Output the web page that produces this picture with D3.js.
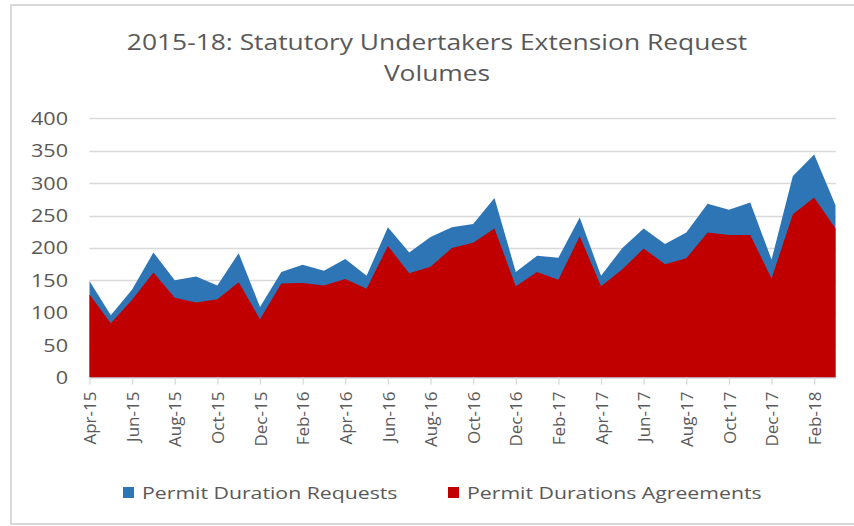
<!DOCTYPE html>
<html>
<head>
<meta charset="utf-8">
<script src="https://cdn.jsdelivr.net/npm/d3@7/dist/d3.min.js"></script>
<style>
  html, body { margin: 0; padding: 0; background: #fff; }
  svg { display: block; }
  text { font-family: "Open Sans", "Liberation Sans", sans-serif; fill: #595959; }
</style>
</head>
<body>
<svg id="chart" width="854" height="526"></svg>
<script>
// Monthly volumes, April 2015 to March 2018
const months = [
  "Apr-15","May-15","Jun-15","Jul-15","Aug-15","Sep-15","Oct-15","Nov-15","Dec-15","Jan-16","Feb-16","Mar-16",
  "Apr-16","May-16","Jun-16","Jul-16","Aug-16","Sep-16","Oct-16","Nov-16","Dec-16","Jan-17","Feb-17","Mar-17",
  "Apr-17","May-17","Jun-17","Jul-17","Aug-17","Sep-17","Oct-17","Nov-17","Dec-17","Jan-18","Feb-18","Mar-18"
];
const requests = [
  149, 96, 136, 193, 150, 156, 142, 192, 109, 163, 174, 165,
  183, 157, 232, 193, 217, 232, 237, 277, 163, 188, 185, 247,
  157, 200, 230, 206, 224, 268, 259, 270, 182, 311, 344, 266
];
const agreements = [
  128, 84, 120, 162, 123, 116, 121, 147, 90, 145, 146, 142,
  152, 137, 203, 161, 171, 200, 208, 230, 141, 163, 151, 218,
  141, 167, 199, 175, 184, 224, 220, 220, 153, 252, 278, 230
];
const tickLabels = months.filter((m, i) => i % 2 === 0);
const yTicks = [0, 50, 100, 150, 200, 250, 300, 350, 400];
const titleLines = ["2015-18: Statutory Undertakers Extension Request", "Volumes"];
const seriesNames = ["Permit Duration Requests", "Permit Durations Agreements"];
const seriesColors = ["#2E75B6", "#C00000"];

const svg = d3.select("#chart");
const grid = "#d9d9d9";
const wide = 1.2; // horizontal stretch applied to the upright text

// outer chart frame
svg.append("rect")
  .attr("x", 11).attr("y", 5).attr("width", 860).attr("height", 519)
  .attr("fill", "none").attr("stroke", grid).attr("stroke-width", 2);

const x = d3.scalePoint().domain(months).range([89.5, 835.5]);
const y = d3.scaleLinear().domain([0, 400]).range([377.6, 118.3]);

// title
svg.append("g").selectAll("text").data(titleLines).join("text")
  .attr("transform", (d, i) => `translate(437,${50 + i * 31}) scale(${wide},1)`)
  .attr("text-anchor", "middle")
  .style("font-size", "22px")
  .text(d => d);

// horizontal gridlines
svg.append("g").selectAll("line").data(yTicks.filter(v => v > 0)).join("line")
  .attr("x1", 89.5).attr("x2", 836)
  .attr("y1", d => Math.round(y(d)) + 0.5).attr("y2", d => Math.round(y(d)) + 0.5)
  .attr("stroke", grid).attr("stroke-width", 1.3);

// y labels
svg.append("g").selectAll("text").data(yTicks).join("text")
  .attr("transform", d => `translate(68,${y(d)}) scale(${wide},1)`)
  .attr("dy", "0.36em")
  .attr("text-anchor", "end")
  .style("font-size", "18px")
  .text(d => d);

// areas: requests behind, agreements in front
const series = [requests, agreements];
series.forEach((vals, k) => {
  const area = d3.area()
    .x((d, i) => x(months[i]))
    .y0(y(0))
    .y1(d => y(d));
  svg.append("path")
    .datum(vals)
    .attr("d", area)
    .attr("fill", seriesColors[k]);
});

// x axis
const xAxis = d3.axisBottom(x).tickValues(tickLabels).tickSize(7).tickSizeOuter(0).tickPadding(8);
const gx = svg.append("g").attr("transform", `translate(0,${y(0)})`).call(xAxis);
gx.select(".domain").attr("stroke", grid).attr("stroke-width", 1.3);
gx.selectAll(".tick line").attr("stroke", grid).attr("stroke-width", 1.3);
gx.selectAll(".tick text")
  .attr("transform", "rotate(-90)")
  .attr("text-anchor", "end")
  .attr("x", -14).attr("y", 0).attr("dy", "0.36em")
  .style("font-size", "17px")
  .style("font-family", "'Open Sans', 'Liberation Sans', sans-serif")
  .attr("fill", "#595959");

// legend
const legendX = [123, 448];
const lg = svg.append("g").selectAll("g").data(seriesNames).join("g")
  .attr("transform", (d, i) => `translate(${legendX[i]},487)`);
lg.append("rect").attr("width", 11).attr("height", 11).attr("fill", (d, i) => seriesColors[i]);
lg.append("text")
  .attr("transform", `translate(19,6) scale(1.25,1)`)
  .attr("dy", "0.36em")
  .style("font-size", "17px").text(d => d);
</script>
</body>
</html>
